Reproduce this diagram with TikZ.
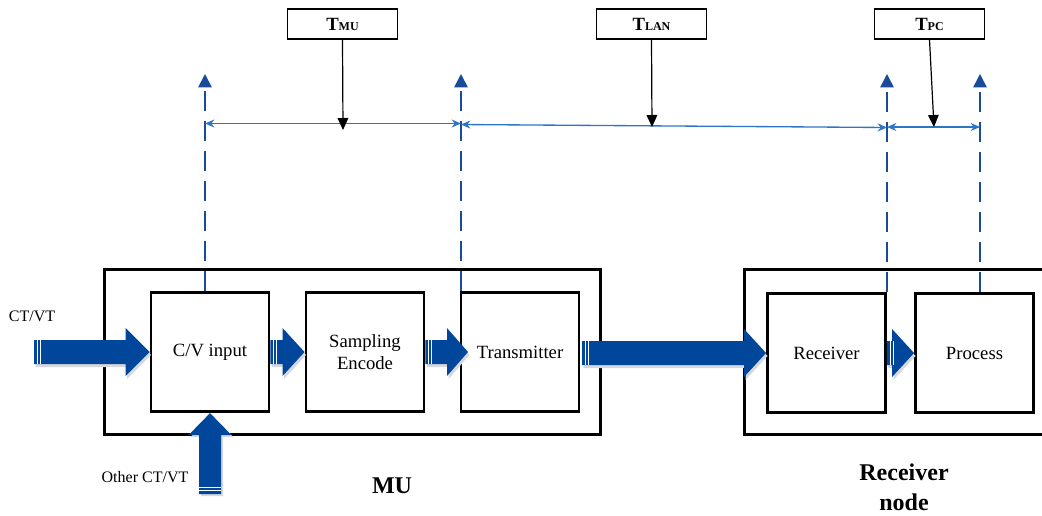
\documentclass[tikz,border=0pt]{standalone}
\usepackage{fontspec}
\setmainfont{Liberation Serif}
\usetikzlibrary{arrows.meta,calc}
\definecolor{bblue}{RGB}{0,71,155}
\definecolor{dblue}{RGB}{25,75,155}
\definecolor{lblue}{RGB}{46,117,198}
\definecolor{shadowgray}{RGB}{215,215,222}
\newcommand\blockR[3]{%
  \foreach \dx/\dy/\col in {1.5/3/shadowgray, 0/0/bblue}{%
    \fill[\col] ($(#1|-#2)+(\dx,-12+\dy)$) -- ($(#2)+(-#3+\dx,-12+\dy)$) -- ($(#2)+(-#3+\dx,-24+\dy)$) -- ($(#2)+(\dx,\dy)$) -- ($(#2)+(-#3+\dx,24+\dy)$) -- ($(#2)+(-#3+\dx,12+\dy)$) -- ($(#1|-#2)+(\dx,12+\dy)$) -- cycle;
  }
  \draw[white,line width=0.5pt] ($(#1|-#2)+(3,-12)$) -- ++(0,24) ($(#1|-#2)+(6,-12)$) -- ++(0,24);
}
\newcommand\blockU[3]{%
  \foreach \dx/\dy/\col in {2/2/shadowgray, 0/0/bblue}{%
    \fill[\col] ($(#2|-#1)+(-11+\dx,\dy)$) -- ($(#2)+(-11+\dx,#3+\dy)$) -- ($(#2)+(-21.5+\dx,#3+\dy)$) -- ($(#2)+(\dx,\dy)$) -- ($(#2)+(21.5+\dx,#3+\dy)$) -- ($(#2)+(11+\dx,#3+\dy)$) -- ($(#2|-#1)+(11+\dx,\dy)$) -- cycle;
  }
  \draw[white,line width=0.5pt] ($(#2|-#1)+(-11,-4)$) -- ++(22,0) ($(#2|-#1)+(-11,-7)$) -- ++(22,0);
}
\begin{document}
\begin{tikzpicture}[x=0.75pt,y=-0.75pt,
  frame/.style={draw,line width=2.2pt,inner sep=0pt},
  unit/.style={draw,line width=2.2pt,inner sep=0pt,minimum width=88.5pt,minimum height=89.5pt,
    font=\fontsize{14}{16.5}\selectfont,align=center},
  lbl/.style={draw,line width=0.9pt,minimum width=83pt,minimum height=22.5pt,inner sep=0pt,fill=white},
  dashv/.style={dblue,line width=1.2pt,dash pattern=on 15pt off 7.5pt,-{Triangle[width=10pt,length=10pt]}},
  span/.style={lblue,line width=1pt,{Stealth[length=7pt,width=6pt]}-{Stealth[length=7pt,width=6pt]}},
  ptr/.style={black,line width=0.9pt,-{Triangle[width=8pt,length=9pt]}},
  txt/.style={font=\fontsize{12}{14}\selectfont},
  title/.style={font=\bfseries\fontsize{18}{22.5}\selectfont,align=center}
]
\useasboundingbox (0,0) rectangle (1042,515);
% outer frames
\node[frame,minimum width=372pt,minimum height=123.75pt] (mu) at (352.5,352) {};
\node[frame,minimum width=230pt,minimum height=123.75pt] (rn) at (898,352) {};
% units
\node[unit] (cv) at (210,352) {C/V input};
\node[unit] (se) at (365,352) {Sampling\\Encode};
\node[unit] (tx) at (520,352) {Transmitter};
\node[unit] (rx) at (826.5,353) {Receiver};
\node[unit] (pr) at (974.5,353) {Process};
% labels
\node[lbl] (tmu) at (342.5,24) {\bfseries\fontsize{14}{16}\selectfont T\fontsize{9}{10}\selectfont MU};
\node[lbl] (tlan) at (651.5,24) {\bfseries\fontsize{14}{16}\selectfont T\fontsize{9}{10}\selectfont LAN};
\node[lbl] (tpc) at (929.5,24) {\bfseries\fontsize{14}{16}\selectfont T\fontsize{9}{10}\selectfont PC};
% timing lines
\coordinate (t1) at (205,74);
\coordinate (t2) at (461,74);
\coordinate (t3) at (887,74);
\coordinate (t4) at (980,74);
\draw[dashv] (cv.north -| t1) -- (t1);
\draw[dashv] (tx.north -| t2) -- (t2);
\draw[dashv] (rx.north -| t3) -- (t3);
\draw[dashv] (pr.north -| t4) -- (t4);
\coordinate (a1) at (205,123.5);
\coordinate (a2) at (461,123.5);
\coordinate (b1) at (461,124.5);
\coordinate (b2) at (887,127.5);
\coordinate (c1) at (887,127);
\coordinate (c2) at (980,127);
\draw[span] (a1) -- (a2);
\draw[span] (b1) -- (b2);
\draw[span] (c1) -- (c2);
\coordinate (p1) at (343,130);
\coordinate (p2) at (652,127);
\coordinate (p3) at (934,127);
\draw[ptr] (tmu.south) -- (p1);
\draw[ptr] (tlan.south) -- (p2);
\draw[ptr] (tpc.south) -- (p3);
% block arrows
\coordinate (ctin) at (34,352);
\coordinate (oin) at (210,494);
\blockR{ctin}{cv.west}{24}
\blockR{cv.east}{se.west}{22}
\coordinate (setip) at (468,352);
\blockR{se.east}{setip}{21}
\coordinate (txout) at (582,352);
\blockR{txout}{rx.west}{22}
\blockR{rx.east}{pr.west}{22}
\blockU{oin}{cv.south}{22}
% texts
\node[txt] (ctvt) at (32,316) {CT/VT};
\node[txt] (octvt) at (145,477) {Other CT/VT};
\node[title] (mul) at (392,486) {MU};
\node[title] (rnl) at (904,487) {Receiver\\node};
\end{tikzpicture}
\end{document}
